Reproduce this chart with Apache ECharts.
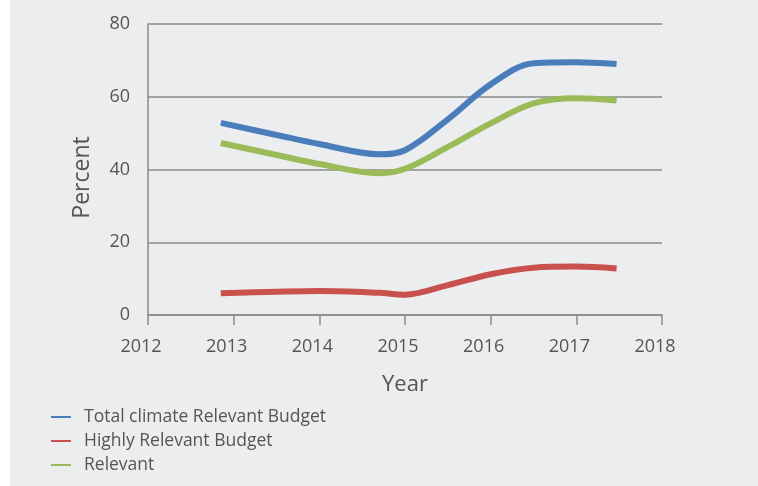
<!DOCTYPE html>
<html><head><meta charset="utf-8">
<script src="https://cdn.jsdelivr.net/npm/echarts@6/dist/echarts.min.js"></script>
<style>html,body{margin:0;padding:0;background:#fff}#c{width:758px;height:486px}</style>
</head><body><div id="c"></div>
<script>
var years = [2012.85, 2013.5, 2014.0, 2014.7, 2015.0, 2015.5, 2016.0, 2016.5, 2017.0, 2017.47];
var totalBudget = [52.8, 49.5, 47.0, 44.2, 45.3, 53.8, 63.4, 69.2, 69.5, 69.0];
var highlyRelevant = [6.0, 6.4, 6.6, 6.1, 5.6, 8.2, 11.2, 13.0, 13.3, 12.8];
var relevant = [47.3, 44.0, 41.5, 39.0, 40.2, 46.2, 52.7, 58.2, 59.6, 59.0];
var seriesNames = ['Total climate Relevant Budget', 'Highly Relevant Budget', 'Relevant'];
var colors = ['#4a7ebb', '#c9514d', '#9bbb59'];

function pairs(v){ return years.map(function(x,i){ return [x, v[i]]; }); }
var font = '"Open Sans", sans-serif';
var chart = echarts.init(document.getElementById('c'));
chart.setOption({
  backgroundColor: '#ffffff',
  animation: false,
  graphic: [{type:'rect', z:-10, shape:{x:10,y:0,width:748,height:486}, style:{fill:'#ecedef'}}],
  grid: {left:148, right:96, top:24, bottom:171},
  legend: {
    orient:'vertical', left:46, top:403, itemGap:6, itemWidth:20, itemHeight:2,
    icon:'rect', data: seriesNames,
    textStyle:{color:'#555', fontSize:17.5, fontFamily:font, padding:[0,0,0,8]}
  },
  xAxis: {
    type:'value', min:2012, max:2018, interval:1,
    name:'Year', nameLocation:'middle', nameGap:59,
    nameTextStyle:{color:'#555', fontSize:22, fontFamily:font},
    axisLine:{show:true, lineStyle:{color:'#8a8a8a', width:1.5}},
    axisTick:{show:true, length:10, lineStyle:{color:'#8a8a8a', width:1.5}},
    splitLine:{show:false},
    axisLabel:{color:'#555', fontSize:18, fontFamily:font, margin:23, padding:[0,14,0,0],
      formatter:function(v){return String(v);}}
  },
  yAxis: {
    type:'value', min:0, max:80, interval:20,
    name:'Percent', nameLocation:'middle', nameGap:54,
    nameTextStyle:{color:'#555', fontSize:23, fontFamily:font, padding:[0,16,0,0]},
    axisLine:{show:true, lineStyle:{color:'#8a8a8a', width:1.5}},
    axisTick:{show:false},
    splitLine:{show:true, lineStyle:{color:'#8a8a8a', width:1.5}},
    axisLabel:{color:'#555', fontSize:18, fontFamily:font, margin:18}
  },
  series: [
    {name:seriesNames[0], type:'line', smooth:0.35, showSymbol:false, data:pairs(totalBudget), lineStyle:{width:6, color:colors[0]}, itemStyle:{color:colors[0]}},
    {name:seriesNames[1], type:'line', smooth:0.35, showSymbol:false, data:pairs(highlyRelevant), lineStyle:{width:6, color:colors[1]}, itemStyle:{color:colors[1]}},
    {name:seriesNames[2], type:'line', smooth:0.35, showSymbol:false, data:pairs(relevant), lineStyle:{width:6, color:colors[2]}, itemStyle:{color:colors[2]}}
  ]
});
</script></body></html>
